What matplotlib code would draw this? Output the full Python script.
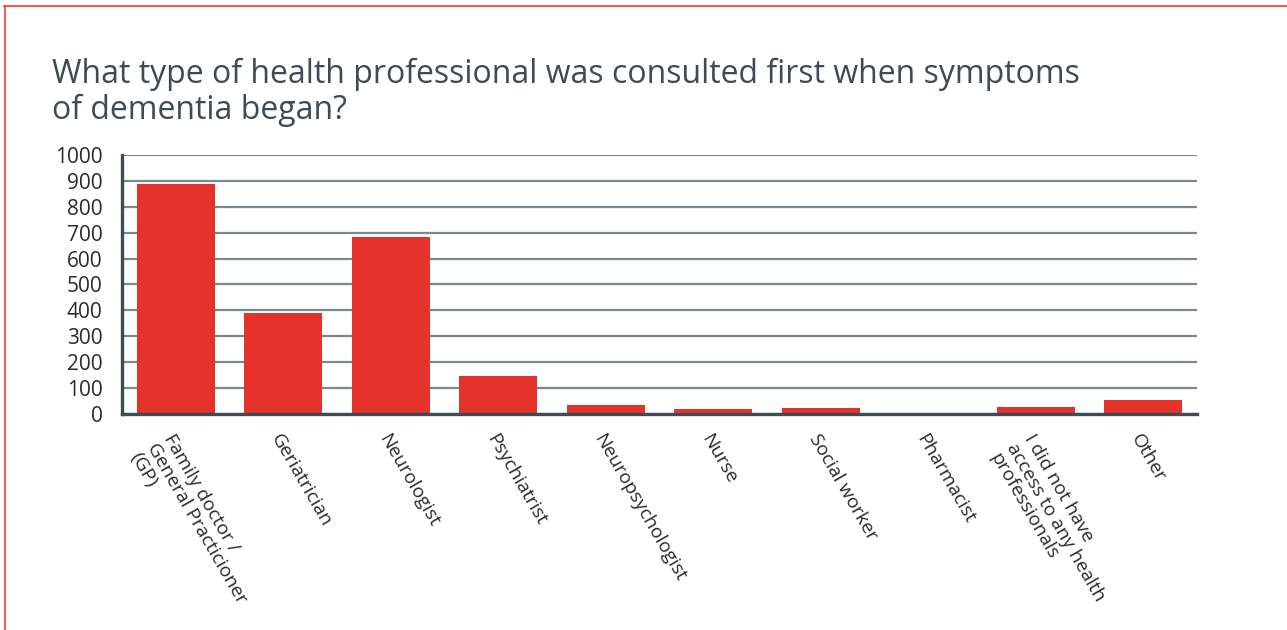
import matplotlib.pyplot as plt
from matplotlib.lines import Line2D

categories = [
    'Family doctor /\nGeneral Practicioner\n(GP)',
    'Geriatrician',
    'Neurologist',
    'Psychiatrist',
    'Neuropsychologist',
    'Nurse',
    'Social worker',
    'Pharmacist',
    'I did not have\naccess to any health\nprofessionals',
    'Other',
]
counts = [888, 390, 683, 147, 35, 19, 23, 5, 28, 54]
yticks = [0, 100, 200, 300, 400, 500, 600, 700, 800, 900, 1000]

plt.rcParams['font.family'] = ['Open Sans', 'DejaVu Sans']

fig = plt.figure(figsize=(12.87, 6.30), dpi=100)
ax = fig.add_axes([0.0948, 0.343, 0.8352, 0.411])

x = range(len(categories))
ax.bar(x, counts, width=0.725, color='#e5322a', zorder=3)

ax.set_xlim(-0.5, len(categories) - 0.5)
ax.set_ylim(0, 1000)
ax.set_yticks(yticks)
ax.set_yticklabels([str(v) for v in yticks], fontsize=15, color='#2b2b2b')
ax.set_xticks(list(x))
ax.set_xticklabels(categories, fontsize=13.8, color='#2b2b2b', rotation=-60,
                   ha='left', va='top', rotation_mode='anchor', multialignment='left',
                   linespacing=1.1)
ax.tick_params(axis='both', length=0)
ax.tick_params(axis='y', pad=14)
ax.tick_params(axis='x', pad=12)

# horizontal guides, spines on top
ax.yaxis.grid(True, color='#7b8894', linewidth=1.6, zorder=1)
ax.set_axisbelow(True)
for side in ['top', 'right']:
    ax.spines[side].set_visible(False)
for side in ['left', 'bottom']:
    ax.spines[side].set_color('#3e4c59')
    ax.spines[side].set_linewidth(2.4)
    ax.spines[side].set_zorder(4)

fig.text(0.0405, 0.908, 'What type of health professional was consulted first when symptoms\nof dementia began?',
         fontsize=23, color='#3f4a56', ha='left', va='top', linespacing=1.12)

# thin red frame along the top and left edges
fig.add_artist(Line2D([0.003, 1.0], [0.9905, 0.9905], color='#ec4a40', linewidth=1.3, transform=fig.transFigure))
fig.add_artist(Line2D([0.0037, 0.0037], [0.0, 0.9905], color='#ec4a40', linewidth=1.3, transform=fig.transFigure))

fig.savefig('out.png', dpi=100)
